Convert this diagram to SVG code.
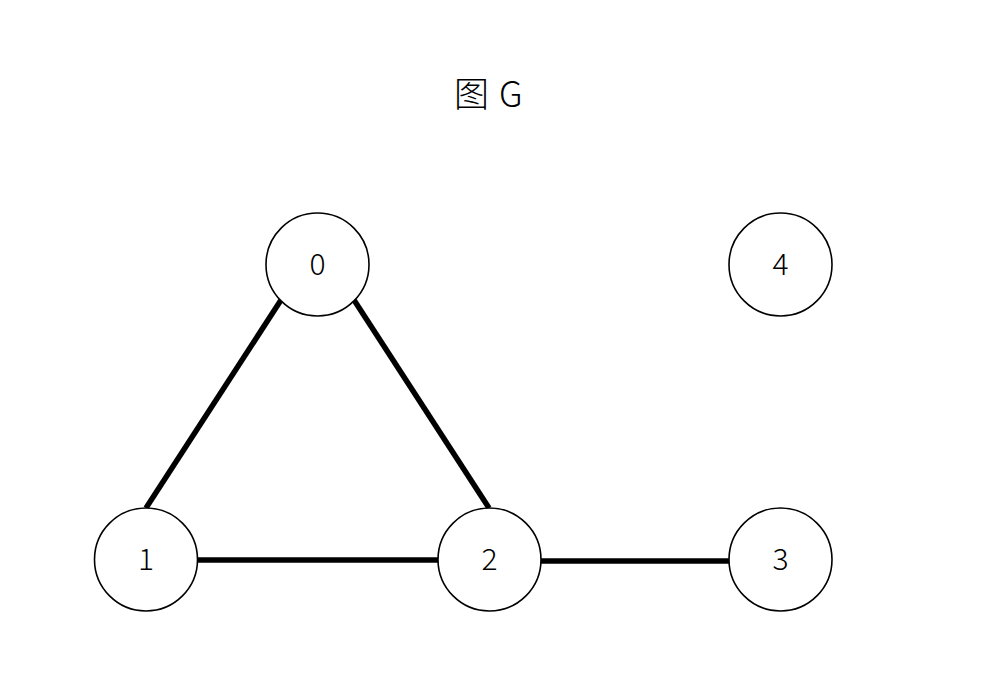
<svg xmlns="http://www.w3.org/2000/svg" width="985" height="697" viewBox="0 0 985 697">
<style>
.node circle{fill:#fff;stroke:#000;stroke-width:1.6}
.node text{font-family:"Noto Sans CJK SC","Noto Sans",sans-serif;font-weight:300;font-size:30px;text-anchor:middle;dominant-baseline:central;fill:#000}
.edges line{stroke:#000;stroke-width:5.5}
.title{font-family:"Noto Sans CJK SC","Noto Sans",sans-serif;font-weight:300;font-size:35px;fill:#000}
</style>
<rect width="985" height="697" fill="#fff"/>
<text class="title" y="107"><tspan x="454">图</tspan><tspan x="499">G</tspan></text>
<g class="edges">
<line x1="281" y1="300" x2="146" y2="508"/>
<line x1="354" y1="300" x2="489" y2="508"/>
<line x1="198" y1="560" x2="438" y2="560"/>
<line x1="541" y1="561" x2="729" y2="561"/>
</g>
<g id="node0" class="node"><circle cx="317.5" cy="264.5" r="51.5"/><text x="317.5" y="262">0</text></g>
<g id="node4" class="node"><circle cx="780.5" cy="264.5" r="51.5"/><text x="780.5" y="262">4</text></g>
<g id="node1" class="node"><circle cx="146" cy="559.5" r="51.5"/><text x="146" y="557">1</text></g>
<g id="node2" class="node"><circle cx="489.5" cy="559.5" r="51.5"/><text x="489.5" y="557">2</text></g>
<g id="node3" class="node"><circle cx="780.5" cy="559.5" r="51.5"/><text x="780.5" y="557">3</text></g>
</svg>
